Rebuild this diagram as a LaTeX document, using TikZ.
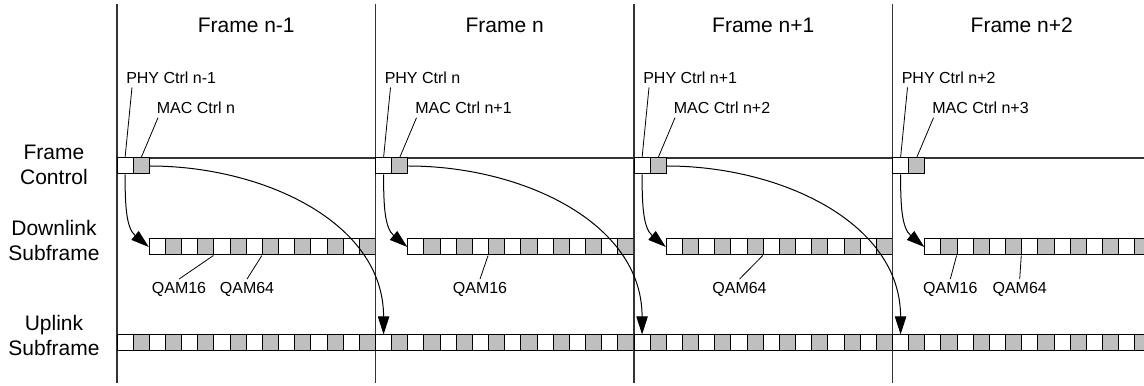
\documentclass[tikz,border=0pt]{standalone}
\usepackage{fontspec}
\setmainfont{Liberation Sans}
\usetikzlibrary{arrows.meta}
\begin{document}
\begin{tikzpicture}[x=0.75pt, y=0.75pt]
  \tikzstyle{slot}=[rectangle, draw, minimum width=12.12pt, minimum height=12pt, inner sep=0pt, fill=white, line width=0.75pt]
  \tikzstyle{sep}=[black!80, line width=1.1pt]
  \tikzstyle{big}=[inner sep=0pt, font=\fontsize{15.75}{18.75}\selectfont]
  \tikzstyle{small}=[inner sep=0pt, font=\fontsize{12}{14}\selectfont]
  \tikzstyle{lead}=[line width=0.6pt]
  \tikzstyle{edge}=[-{Triangle[length=13.5pt, width=8.5pt]}, line width=0.75pt]

  \useasboundingbox (0,0) rectangle (1144,385);

  % row names
  \node[big, align=center, anchor=north] (rowctrl) at (54, 240) {Frame\\Control};
  \node[big, align=center, anchor=north] (rowdl)   at (54, 165) {Downlink\\Subframe};
  \node[big, align=center, anchor=north] (rowul)   at (54, 70)  {Uplink\\Subframe};

  \coordinate (ctrlstart) at (117, 227);
  \coordinate (ctrlend) at (1144, 227);
  \draw[sep] (ctrlstart) -- (ctrlend);

  \foreach \i/\fn/\mn in {0/n-1/n, 1/n/n+1, 2/n+1/n+2, 3/n+2/n+3} {
    \pgfmathsetmacro{\fx}{117+258.5*\i}
    \coordinate (top\i) at (\fx, 381);
    \coordinate (bot\i) at (\fx, 2);
    \draw[sep] (top\i) -- (bot\i);
    \node[big, anchor=base] (title\i) at (\fx+129.25, 352) {Frame \fn};

    % frame control
    \node[small, anchor=base west] (phyl\i) at (\fx+9, 301)    {PHY Ctrl \fn};
    \node[small, anchor=base west] (macl\i) at (\fx+39.5, 271.7) {MAC Ctrl \mn};
    \node[slot] (phy\i) at (\fx+8.08, 219) {};
    \node[slot, fill=gray!50] (mac\i) at (\fx+24.23, 219) {};
    \draw[lead] ([shift={(6,-3)}]phyl\i.south west) -- (phy\i.north);
    \draw[lead] ([shift={(1.5,-4)}]macl\i.south west) -- (mac\i.north);

    % downlink
    \foreach \k in {0,...,13} {
      \ifodd\k \def\col{gray!50}\else \def\col{white}\fi
      \node[slot, fill=\col] (dl\i-\k) at (\fx+40.39+16.156*\k, 138) {};
    }
    % uplink
    \foreach \k in {0,...,15} {
      \ifodd\k \def\col{gray!50}\else \def\col{white}\fi
      \node[slot, fill=\col] (ul\i-\k) at (\fx+8.08+16.156*\k, 42) {};
    }
  }

  % modulation
  \node[small, anchor=base, inner sep=2.6pt] (qa0) at (179, 91)    {QAM16};
  \node[small, anchor=base, inner sep=2.6pt] (qb0) at (247, 91)    {QAM64};
  \node[small, anchor=base, inner sep=2.6pt] (qa1) at (480, 91)    {QAM16};
  \node[small, anchor=base, inner sep=2.6pt] (qb2) at (739.5, 91)  {QAM64};
  \node[small, anchor=base, inner sep=2.6pt] (qa3) at (950.3, 91)  {QAM16};
  \node[small, anchor=base, inner sep=2.6pt] (qb3) at (1019.7, 91) {QAM64};
  \draw[lead] (qa0.north) -- (dl0-4.south west);
  \draw[lead] (qb0.north) -- (dl0-7.south west);
  \draw[lead] (qa1.north) -- (dl1-5.south west);
  \draw[lead] (qb2.north) -- (dl2-6.south west);
  \draw[lead] (qa3.north) -- (dl3-2.south west);
  \draw[lead] (qb3.north) -- (dl3-6.south west);

  % arrows
  \path[edge] (phy0.south) edge[out=-90, in=140] (dl0-0.west);
  \path[edge] (phy1.south) edge[out=-90, in=140] (dl1-0.west);
  \path[edge] (phy2.south) edge[out=-90, in=140] (dl2-0.west);
  \path[edge] (phy3.south) edge[out=-90, in=140] (dl3-0.west);
  \path[edge] (mac0.east) edge[out=0, in=90] (ul1-0.north);
  \path[edge] (mac1.east) edge[out=0, in=90] (ul2-0.north);
  \path[edge] (mac2.east) edge[out=0, in=90] (ul3-0.north);
\end{tikzpicture}
\end{document}
